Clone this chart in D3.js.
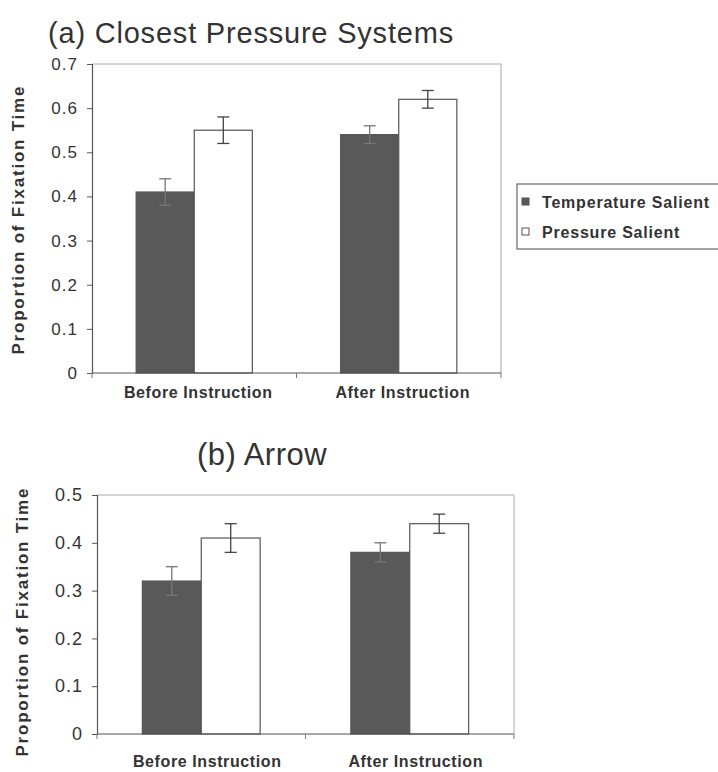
<!DOCTYPE html>
<html>
<head>
<meta charset="utf-8">
<script src="https://cdn.jsdelivr.net/npm/d3@7"></script>
<style>
  body { margin: 0; background: #fff; }
  svg { display: block; font-family: "Liberation Sans", Arial, sans-serif; }
</style>
</head>
<body>
<svg id="chart" width="718" height="772"></svg>
<script>
const categories = ["Before Instruction", "After Instruction"];
const seriesNames = ["Temperature Salient", "Pressure Salient"];

// panel (a) closest pressure systems
const aTemperature = [0.41, 0.54];
const aTemperatureErr = [0.03, 0.02];
const aPressure = [0.55, 0.62];
const aPressureErr = [0.03, 0.02];
const aTicks = [0, 0.1, 0.2, 0.3, 0.4, 0.5, 0.6, 0.7];

// panel (b) arrow
const bTemperature = [0.32, 0.38];
const bTemperatureErr = [0.03, 0.02];
const bPressure = [0.41, 0.44];
const bPressureErr = [0.03, 0.02];
const bTicks = [0, 0.1, 0.2, 0.3, 0.4, 0.5];

const fills = ["#595959", "#ffffff"];
const ink = "#333";

const svg = d3.select("#chart");

function drawPanel(opt) {
    const g = svg.append("g").attr("transform", `translate(${opt.left},${opt.top})`);
    const w = opt.width, h = opt.height;

    const x = d3.scaleBand().domain(categories).range([0, w]);
    const xs = d3.scaleBand().domain(seriesNames).range([0, x.bandwidth()]).paddingOuter(opt.pad);
    const y = d3.scaleLinear().domain([0, d3.max(opt.ticks)]).range([h, 0]);

    // plot frame (top + right)
    g.append("path")
        .attr("d", `M0,0H${w}V${h}`)
        .attr("fill", "none")
        .attr("stroke", "#aaa")
        .attr("stroke-width", 1);

    const rows = [];
    categories.forEach((c, i) => {
        rows.push({cat: c, s: seriesNames[0], v: opt.temp[i], e: opt.tempErr[i], k: 0});
        rows.push({cat: c, s: seriesNames[1], v: opt.press[i], e: opt.pressErr[i], k: 1});
    });

    g.selectAll("rect.bar")
        .data(rows)
        .join("rect")
        .attr("class", "bar")
        .attr("x", d => x(d.cat) + xs(d.s))
        .attr("y", d => y(d.v))
        .attr("width", xs.bandwidth())
        .attr("height", d => h - y(d.v))
        .attr("fill", d => fills[d.k])
        .attr("stroke", "#555")
        .attr("stroke-width", 1.2);

    // error bars
    const eb = g.selectAll("g.err")
        .data(rows)
        .join("g")
        .attr("class", "err")
        .attr("stroke", d => d.k === 0 ? "#777" : "#444")
        .attr("stroke-width", 1.3);
    const cx = d => x(d.cat) + xs(d.s) + xs.bandwidth() / 2;
    eb.append("line")
        .attr("x1", cx).attr("x2", cx)
        .attr("y1", d => y(d.v + d.e)).attr("y2", d => y(d.v - d.e));
    eb.append("line")
        .attr("x1", d => cx(d) - 6).attr("x2", d => cx(d) + 6)
        .attr("y1", d => y(d.v + d.e)).attr("y2", d => y(d.v + d.e));
    eb.append("line")
        .attr("x1", d => cx(d) - 6).attr("x2", d => cx(d) + 6)
        .attr("y1", d => y(d.v - d.e)).attr("y2", d => y(d.v - d.e));

    // y axis
    const ya = g.append("g")
        .call(d3.axisLeft(y).tickValues(opt.ticks).tickSize(5).tickPadding(9)
            .tickFormat(d => d === 0 ? "0" : d3.format(".1f")(d)));
    ya.select(".domain").attr("stroke", "#555").attr("stroke-width", 1.2);
    ya.selectAll(".tick line").attr("stroke", "#555");
    ya.selectAll(".tick text")
        .attr("fill", ink)
        .style("font-size", opt.tickSize + "px")
        .style("letter-spacing", "1px")
        .style("font-family", "'Liberation Sans', Arial, sans-serif");

    // x axis with ticks at band edges
    const xa = g.append("g").attr("transform", `translate(0,${h})`);
    xa.append("line").attr("x1", 0).attr("x2", w).attr("stroke", "#555").attr("stroke-width", 1.2);
    xa.selectAll("line.edge")
        .data([0, ...categories.map(c => x(c) + x.bandwidth())])
        .join("line")
        .attr("class", "edge")
        .attr("x1", d => d).attr("x2", d => d)
        .attr("y1", 0).attr("y2", 5)
        .attr("stroke", "#777");
    xa.selectAll("text")
        .data(categories)
        .join("text")
        .attr("x", d => x(d) + x.bandwidth() / 2 + opt.labelShift)
        .attr("y", opt.labelDy)
        .attr("text-anchor", "middle")
        .attr("fill", ink)
        .style("font-size", "16px")
        .style("font-weight", "bold")
        .style("letter-spacing", "0.6px")
        .text(d => d);

    // y axis title
    g.append("text")
        .attr("transform", `translate(${opt.yTitleX},${h / 2 + opt.yTitleShift}) rotate(-90)`)
        .attr("text-anchor", "middle")
        .attr("fill", ink)
        .attr("textLength", 268)
        .attr("lengthAdjust", "spacing")
        .style("font-size", "17px")
        .style("font-weight", "bold")
        .text("Proportion of Fixation Time");

    // panel title
    svg.append("text")
        .attr("x", opt.titleX)
        .attr("y", opt.titleY)
        .attr("text-anchor", opt.titleAnchor)
        .attr("fill", ink)
        .style("font-size", opt.titleSize + "px")
        .style("letter-spacing", opt.titleSpacing + "px")
        .text(opt.title);
}

drawPanel({
    left: 92, top: 64, width: 409, height: 309, pad: 0.76,
    temp: aTemperature, tempErr: aTemperatureErr,
    press: aPressure, pressErr: aPressureErr,
    ticks: aTicks, tickSize: 17, labelDy: 25, labelShift: 4, yTitleX: -68, yTitleShift: 2,
    title: "(a) Closest Pressure Systems", titleX: 48, titleY: 43, titleAnchor: "start",
    titleSize: 29, titleSpacing: 0.8
});

drawPanel({
    left: 97, top: 495, width: 417, height: 239, pad: 0.77,
    temp: bTemperature, tempErr: bTemperatureErr,
    press: bPressure, pressErr: bPressureErr,
    ticks: bTicks, tickSize: 18, labelDy: 33, labelShift: 6, yTitleX: -69, yTitleShift: 8,
    title: "(b)  Arrow", titleX: 262, titleY: 465, titleAnchor: "middle",
    titleSize: 31, titleSpacing: 0.5
});

// legend
const legend = svg.append("g").attr("transform", "translate(517,184)");
legend.append("rect")
    .attr("width", 230).attr("height", 65)
    .attr("fill", "#fff").attr("stroke", "#666").attr("stroke-width", 1.2);
const li = legend.selectAll("g.item")
    .data(seriesNames)
    .join("g")
    .attr("class", "item")
    .attr("transform", (d, i) => `translate(5,${18 + i * 30})`);
li.append("rect")
    .attr("x", 0).attr("y", -4).attr("width", 7).attr("height", 7)
    .attr("fill", (d, i) => fills[i])
    .attr("stroke", "#555");
li.append("text")
    .attr("x", 20).attr("y", 0).attr("dy", "0.35em")
    .attr("fill", ink)
    .style("font-size", "16px")
    .style("font-weight", "bold")
    .style("letter-spacing", "0.8px")
    .text(d => d);
</script>
</body>
</html>
